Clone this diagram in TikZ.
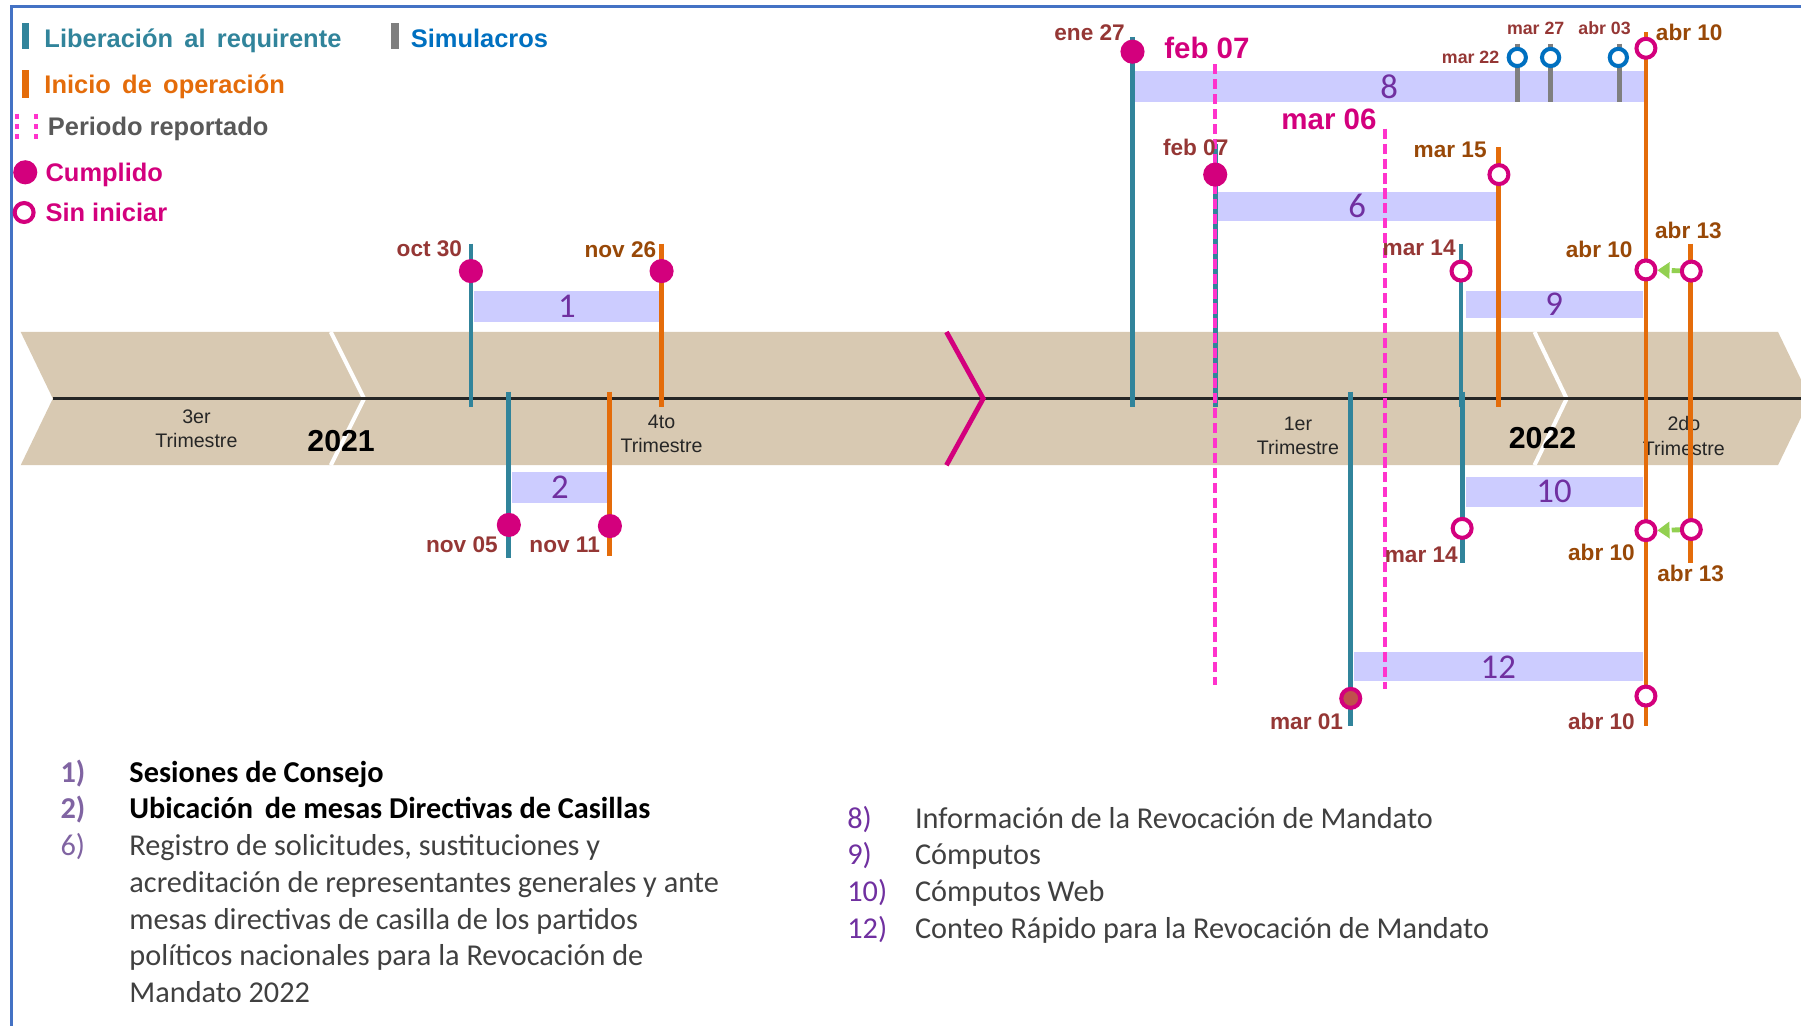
\documentclass[tikz,border=0pt]{standalone}
\usepackage{fontspec}
\setmainfont{Liberation Sans}
\newfontfamily\calibri{Carlito}
\usepackage{xcolor}
\usetikzlibrary{arrows.meta}
\definecolor{liber}{HTML}{31849B}
\definecolor{inicio}{HTML}{E46C0A}
\definecolor{simgray}{HTML}{7F7F7F}
\definecolor{simblue}{HTML}{0070C0}
\definecolor{cumplido}{HTML}{D3007D}
\definecolor{periodo}{HTML}{FF33CC}
\definecolor{banda}{HTML}{D8C9B2}
\definecolor{lavanda}{HTML}{CCCCFF}
\definecolor{morado}{HTML}{7030A0}
\definecolor{moradoclaro}{HTML}{8064A2}
\definecolor{fecharoja}{HTML}{953735}
\definecolor{fechanaranja}{HTML}{984807}
\definecolor{flecha}{HTML}{92D050}
\definecolor{texto}{HTML}{404040}
\definecolor{gristexto}{HTML}{595959}
\definecolor{marco}{HTML}{4472C4}
\definecolor{rojomar}{HTML}{C0504D}
\newcommand\leyenda{\bfseries\fontsize{6.3}{7.5}\selectfont}
\newcommand\fechafont{\bfseries\fontsize{5.6}{6.7}\selectfont}
\newcommand\fechachica{\bfseries\fontsize{4.4}{5.3}\selectfont}
\newcommand\fechagrande{\bfseries\fontsize{7.3}{8.8}\selectfont}
\newcommand\trimfont{\fontsize{4.85}{6}\selectfont}
\newcommand\anio{\bfseries\fontsize{7.5}{9}\selectfont}
\newcommand\lista{\calibri\fontsize{7.5}{9.1}\selectfont}

\begin{document}
\begin{tikzpicture}[x=0.01cm, y=-0.01cm,
		lib/.style={draw=liber, line width=1.2pt},
		ini/.style={draw=inicio, line width=1.2pt},
		sim/.style={draw=simgray, line width=1.2pt},
		reporte/.style={draw=periodo, line width=1pt, dash pattern=on 2.5pt off 1.2pt},
		hecho/.style={circle, fill=cumplido, inner sep=0pt, minimum size=0.21cm},
		pend/.style={circle, draw=cumplido, fill=white, line width=1pt, inner sep=0pt, minimum size=0.165cm},
		simpend/.style={pend, draw=simblue, minimum size=0.15cm},
		barra/.style={fill=lavanda, inner sep=0pt, text=morado, font=\calibri\fontsize{8.6}{9}\selectfont},
		froja/.style={inner sep=0pt, text=fecharoja, font=\fechafont},
		fnaranja/.style={inner sep=0pt, text=fechanaranja, font=\fechafont},
		ley/.style={anchor=base west, inner sep=0pt, font=\leyenda},
		trim/.style={align=center, inner sep=0pt, text=black!85, font=\trimfont},
		num/.style={anchor=base west, inner sep=0pt, font=\lista},
		item/.style={anchor=base west, inner sep=0pt, text=texto, font=\lista},
		avance/.style={draw=flecha, line width=1.2pt, dash pattern=on 2pt off 1pt, -{Triangle[length=3pt,width=4pt]}}]
		\useasboundingbox (0,0) rectangle (1568,893);
		\draw [marco, line width=0.7pt] (10,893) -- (10,6) -- (1568,6);
		%
		\begin{scope}
			\fill [liber] (19,20) rectangle (25,43);
			\node (ley-lib) [ley, text=liber] at (38,41) {Liberación \,al\, requirente};
			\fill [simgray] (340,20) rectangle (347,43);
			\node (ley-sim) [ley, text=simblue] at (357,41) {Simulacros};
			\fill [inicio] (19,61) rectangle (25,85);
			\node (ley-ini) [ley, text=inicio] at (38,81) {Inicio \,de\, operación};
			\draw [periodo, line width=1pt, dash pattern=on 1.4pt off 1.1pt] (15,99) -- (15,121);
			\draw [periodo, line width=1pt, dash pattern=on 1.4pt off 1.1pt] (31,99) -- (31,121);
			\node (ley-per) [ley, text=gristexto] at (41,118) {Periodo reportado};
			\node (ley-hecho) [hecho] at (22,150) {};
			\node (ley-hecho-txt) [ley, text=cumplido] at (39,158) {Cumplido};
			\node (ley-pend) [pend] at (21,185) {};
			\node (ley-pend-txt) [ley, text=cumplido] at (39,193) {Sin iniciar};
		\end{scope}
		%
		\begin{scope}
			\fill [banda] (18,289) -- (1548,289) -- (1576,347) -- (1548,405) -- (18,405) -- (46,347) -- cycle;
			\draw [white, line width=1pt] (288,289) -- (317,347) -- (288,405);
			\draw [white, line width=1pt] (1336,289) -- (1364,347) -- (1336,405);
			\draw [black!85, line width=0.7pt] (46,347) -- (1568,347);
			\draw [cumplido, line width=1.2pt] (824,289) -- (856,347) -- (824,405);
			%
			\node (t3) [trim] at (171,373.5) {3er\\Trimestre};
			\node (t4) [trim] at (576,377.5) {4to\\Trimestre};
			\node (t1) [trim] at (1130,379.5) {1er\\Trimestre};
			\node (t2) [trim] at (1466,379.5) {2do\\Trimestre};
			\node (a2021) [anchor=base, inner sep=0pt, font=\anio] at (297,393.5) {2021};
			\node (a2022) [anchor=base, inner sep=0pt, font=\anio] at (1343,390.5) {2022};
		\end{scope}
		%
		\begin{scope}
			\coordinate (oct30-a) at (410,212);  \coordinate (oct30-b) at (410,354);
			\coordinate (nov26-a) at (576,212);  \coordinate (nov26-b) at (576,354);
			\coordinate (nov05-a) at (443,341);  \coordinate (nov05-b) at (443,486);
			\coordinate (nov11-a) at (531,341);  \coordinate (nov11-b) at (531,484);
			\coordinate (ene27-a) at (986,32);   \coordinate (ene27-b) at (986,354);
			\coordinate (feb07-a) at (1058,125); \coordinate (feb07-b) at (1058,354);
			\coordinate (mar15-a) at (1305,128); \coordinate (mar15-b) at (1305,354);
			\coordinate (mar14-a) at (1272,212); \coordinate (mar14-b) at (1272,354);
			\coordinate (mar14-c) at (1273,341); \coordinate (mar14-d) at (1273,490);
			\coordinate (mar01-a) at (1176,341); \coordinate (mar01-b) at (1176,632);
			\coordinate (abr10-a) at (1433,28);  \coordinate (abr10-b) at (1433,632);
			\coordinate (abr13-a) at (1472,212); \coordinate (abr13-b) at (1472,490);
			\coordinate (mar22-a) at (1321,38);  \coordinate (mar22-b) at (1321,89);
			\coordinate (mar27-a) at (1350,38);  \coordinate (mar27-b) at (1350,89);
			\coordinate (abr03-a) at (1410,38);  \coordinate (abr03-b) at (1410,89);
			\coordinate (rep1-a) at (1058,56);   \coordinate (rep1-b) at (1058,596);
			\coordinate (rep2-a) at (1206,112);  \coordinate (rep2-b) at (1206,600);
			%
			\node (b1) [barra, minimum width=1.61cm, minimum height=0.27cm] at (493.5,266.5) {1};
			\node (b2) [barra, minimum width=0.83cm, minimum height=0.27cm] at (487.5,424.5) {2};
			\node (b8) [barra, minimum width=4.43cm, minimum height=0.27cm] at (1209.5,75.5) {8};
			\node (b6) [barra, minimum width=2.43cm, minimum height=0.25cm] at (1181.5,179.5) {6};
			\node (b9) [barra, minimum width=1.54cm, minimum height=0.24cm] at (1353,265) {9};
			\node (b10) [barra, minimum width=1.54cm, minimum height=0.26cm] at (1353,428) {10};
			\node (b12) [barra, minimum width=2.51cm, minimum height=0.25cm] at (1304.5,580.5) {12};
			%
			\draw [lib] (oct30-a) -- (oct30-b);
			\draw [ini] (nov26-a) -- (nov26-b);
			\draw [lib] (nov05-a) -- (nov05-b);
			\draw [ini] (nov11-a) -- (nov11-b);
			\draw [lib] (ene27-a) -- (ene27-b);
			\draw [lib] (feb07-a) -- (feb07-b);
			\draw [ini] (mar15-a) -- (mar15-b);
			\draw [lib] (mar14-a) -- (mar14-b);
			\draw [lib] (mar14-c) -- (mar14-d);
			\draw [lib] (mar01-a) -- (mar01-b);
			\draw [ini] (abr10-a) -- (abr10-b);
			\draw [ini] (abr13-a) -- (abr13-b);
			\draw [sim] (mar22-a) -- (mar22-b);
			\draw [sim] (mar27-a) -- (mar27-b);
			\draw [sim] (abr03-a) -- (abr03-b);
			\draw [reporte] (rep1-a) -- (rep1-b);
			\draw [reporte] (rep2-a) -- (rep2-b);
			%
			\node (c-oct30) [hecho] at (410,236) {};
			\node (c-nov26) [hecho] at (576,236) {};
			\node (c-nov05) [hecho] at (443,457) {};
			\node (c-nov11) [hecho] at (531,458) {};
			\node (c-ene27) [hecho] at (986,45) {};
			\node (c-feb07) [hecho] at (1058,152) {};
			\node (c-mar15) [pend] at (1305,152) {};
			\node (c-abr10-1) [pend] at (1433,42) {};
			\node (c-mar14-1) [pend] at (1272,236) {};
			\node (c-abr10-2) [pend] at (1433,235) {};
			\node (c-abr13-1) [pend] at (1472.5,236) {};
			\node (c-mar14-2) [pend] at (1273,460) {};
			\node (c-abr10-3) [pend] at (1433,462) {};
			\node (c-abr13-2) [pend] at (1472.5,461) {};
			\node (c-abr10-4) [pend] at (1433,606) {};
			\node (c-mar01) [pend, fill=rojomar] at (1176,608) {};
			\node (c-mar22) [simpend] at (1321,50) {};
			\node (c-mar27) [simpend] at (1350,50) {};
			\node (c-abr03) [simpend] at (1409,50) {};
			%
			\draw [avance] (c-abr13-1) -- (c-abr10-2);
			\draw [avance] (c-abr13-2) -- (c-abr10-3);
			%
			\node (l-oct30) [froja, anchor=base east] at (403,223) {oct 30};
			\node (l-nov26) [fnaranja, anchor=base east] at (572,224) {nov 26};
			\node (l-nov05) [froja, anchor=base east] at (434,481) {nov 05};
			\node (l-nov11) [froja, anchor=base east] at (523,481) {nov 11};
			\node (l-ene27) [froja, anchor=base east] at (980,35) {ene 27};
			\node (l-feb07) [froja, anchor=base] at (1041,135) {feb 07};
			\node (l-mar15) [fnaranja, anchor=base east] at (1295,137) {mar 15};
			\node (l-mar14-1) [froja, anchor=base east] at (1268,222) {mar 14};
			\node (l-abr10-2) [fnaranja, anchor=base east] at (1422,224) {abr 10};
			\node (l-abr13-1) [fnaranja, anchor=base] at (1470,208) {abr 13};
			\node (l-mar14-2) [froja, anchor=base west] at (1205,490) {mar 14};
			\node (l-abr10-3) [fnaranja, anchor=base east] at (1424,488) {abr 10};
			\node (l-abr13-2) [fnaranja, anchor=base] at (1472,506) {abr 13};
			\node (l-mar01) [froja, anchor=base east] at (1170,635) {mar 01};
			\node (l-abr10-4) [froja, anchor=base east] at (1424,635) {abr 10};
			\node (l-abr10-1) [fnaranja, anchor=base west] at (1441,35) {abr 10};
			\node (l-mar22) [froja, font=\fechachica, anchor=base east] at (1306,55) {mar 22};
			\node (l-mar27) [froja, font=\fechachica, anchor=base] at (1337,30) {mar 27};
			\node (l-abr03) [froja, font=\fechachica, anchor=base] at (1397,30) {abr 03};
			\node (l-rep1) [inner sep=0pt, text=cumplido, font=\fechagrande, anchor=base west] at (1013,51) {feb 07};
			\node (l-rep2) [inner sep=0pt, text=cumplido, font=\fechagrande, anchor=base west] at (1115,113) {mar 06};
		\end{scope}
		%
		\begin{scope}
			\node (n1) [num, text=moradoclaro, font=\lista\bfseries] at (52,681) {1)};
			\node (i1) [item, text=black, font=\lista\bfseries] at (112,681) {Sesiones de Consejo};
			\node (n2) [num, text=moradoclaro, font=\lista\bfseries] at (52,713) {2)};
			\node (i2) [item, text=black, font=\lista\bfseries] at (112,713) {Ubicación \,de mesas Directivas de Casillas};
			\node (n6) [num, text=moradoclaro] at (52,745) {6)};
			\node (i6) [item, align=left] at (112,873) {Registro de solicitudes, sustituciones y\\acreditación de representantes generales y ante\\mesas directivas de casilla de los partidos\\políticos nacionales para la Revocación de\\Mandato 2022};
			%
			\node (n8) [num, text=morado] at (737,721) {8)};
			\node (i8) [item] at (796,721) {Información de la Revocación de Mandato};
			\node (n9) [num, text=morado] at (737,753) {9)};
			\node (i9) [item] at (796,753) {Cómputos};
			\node (n10) [num, text=morado] at (737,785) {10)};
			\node (i10) [item] at (796,785) {Cómputos Web};
			\node (n12) [num, text=morado] at (737,817) {12)};
			\node (i12) [item] at (796,817) {Conteo Rápido para la Revocación de Mandato};
		\end{scope}
	\end{tikzpicture}
\end{document}
